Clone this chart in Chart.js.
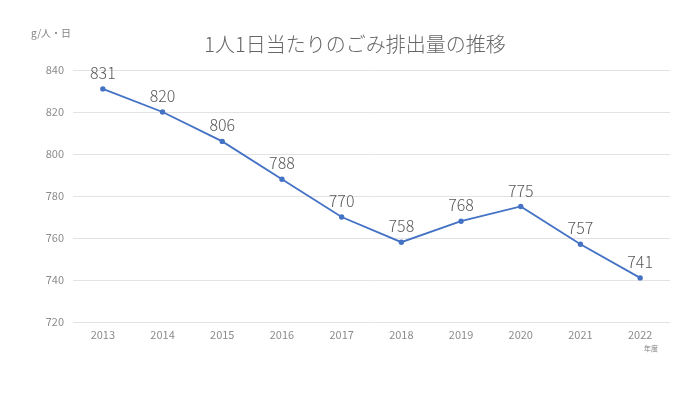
<!DOCTYPE html>
<html>
<head>
<meta charset="utf-8">
<script src="https://cdn.jsdelivr.net/npm/chart.js@4"></script>
<style>
  body { margin: 0; background: #fff; }
  #wrap { width: 700px; height: 394px; }
</style>
</head>
<body>
<div id="wrap"><canvas id="myChart"></canvas></div>
<script>
var labels = ['2013', '2014', '2015', '2016', '2017', '2018', '2019', '2020', '2021', '2022']
var gomi = [831, 820, 806, 788, 770, 758, 768, 775, 757, 741]
var yTicks = [720, 740, 760, 780, 800, 820, 840]

var chartTitle = '1人1日当たりのごみ排出量の推移'
var unitLabel = 'g/人・日'
var xUnit = '年度'

var font = "'Noto Sans CJK JP', 'Noto Sans', sans-serif"

// draws title, unit labels and value labels
var extras = {
  id: 'extras',
  afterDatasetsDraw: function(chart) {
    var c = chart.ctx
    c.save()
    c.fillStyle = '#666666'
    c.textAlign = 'center'
    c.textBaseline = 'middle'
    c.font = '300 20px ' + font
    c.fillText(chartTitle, 355, 44)

    c.font = '10px ' + font
    c.textAlign = 'left'
    c.fillStyle = '#808080'
    c.fillText(unitLabel, 31, 33)

    c.font = '7px ' + font
    c.fillText(xUnit, 644, 348)

    c.fillStyle = '#595959'
    c.font = '300 16px ' + font
    c.textAlign = 'center'
    c.textBaseline = 'bottom'
    var meta = chart.getDatasetMeta(0)
    meta.data.forEach(function(pt, i) {
      c.fillText(String(gomi[i]), pt.x, pt.y - 8)
    })
    c.restore()
  }
}

ctx = document.getElementById('myChart')

chart = new Chart(ctx, {
  type: 'line',
  data: {
    labels: labels,
    datasets: [{
      label: chartTitle,
      data: gomi,
      borderColor: '#4472C4',
      backgroundColor: '#4472C4',
      borderWidth: 1.8,
      pointRadius: 1.8,
      pointHoverRadius: 1.8,
      tension: 0
    }]
  },
  options: {
    responsive: true,
    maintainAspectRatio: false,
    animation: false,
    layout: { padding: { left: 0, right: 30, top: 70, bottom: 0 } },
    plugins: {
      legend: { display: false },
      title: { display: false },
      tooltip: { enabled: false }
    },
    scales: {
      x: {
        offset: true,
        grid: { display: false, drawTicks: false, offset: true },
        border: { display: false },
        ticks: { color: '#8c8c8c', font: { size: 11, family: font }, padding: 6 },
        afterFit: function(s) { s.height = 72 }
      },
      y: {
        min: 720,
        max: 840,
        afterBuildTicks: function(s) { s.ticks = yTicks.map(function(v) { return { value: v } }) },
        grid: { color: '#e3e3e3', drawTicks: false, lineWidth: 1 },
        border: { display: false },
        ticks: { color: '#8c8c8c', font: { size: 11, family: font }, padding: 9 },
        afterFit: function(s) { s.width = 73 }
      }
    }
  },
  plugins: [extras]
})
</script>
</body>
</html>
